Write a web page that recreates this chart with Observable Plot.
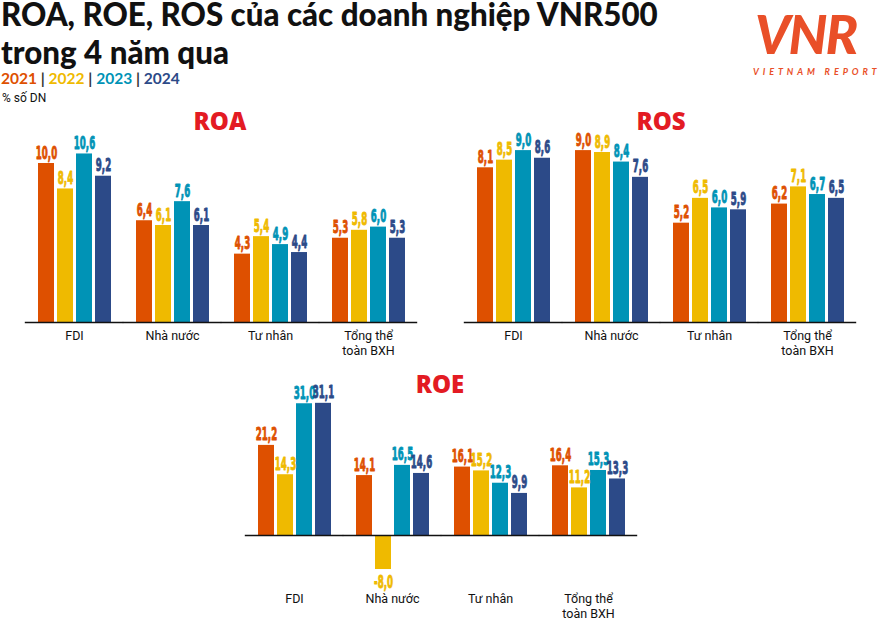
<!DOCTYPE html>
<html>
<head>
<meta charset="utf-8">
<script src="https://cdn.jsdelivr.net/npm/d3@7"></script>
<script src="https://cdn.jsdelivr.net/npm/@observablehq/plot@0.6"></script>
<style>
  body { margin: 0; background: #fff; }
  #page { position: relative; width: 881px; height: 625px; overflow: hidden; background: #fff; font-family: Lato, "Open Sans", sans-serif; }
  .abs { position: absolute; }
  .title { left: 1px; font-family: Lato, sans-serif; font-weight: 900; font-size: 31.3px; line-height: 0.9; color: #111; white-space: nowrap; }
  #legend { left: 1px; top: 71px; font-family: Lato, sans-serif; font-weight: 700; font-size: 15.5px; line-height: 1; color: #333; white-space: nowrap; }
  #legend .sep { color: #333; font-weight: 700; }
  #unit { left: 2px; top: 92px; font-family: Roboto, sans-serif; font-size: 12px; line-height: 1; color: #111; }
  .ptitle { font-family: "Open Sans", sans-serif; font-weight: 800; font-size: 24px; line-height: 1; color: #e31b23; transform: translateX(-50%); white-space: nowrap; }
  #logo { left: 752px; top: 0px; width: 129px; height: 80px; }
</style>
</head>
<body>
<div id="page">
  <div class="abs title" style="top:0px;">ROA, ROE, ROS của các doanh nghiệp VNR500</div>
  <div class="abs title" style="top:38px;">trong 4 năm qua</div>
  <div id="legend" class="abs"></div>
  <div id="unit" class="abs">% số DN</div>
  <div class="abs ptitle" style="left:220px; top:109px;">ROA</div>
  <div class="abs ptitle" style="left:661px; top:109px;">ROS</div>
  <div class="abs ptitle" style="left:440px; top:372px;">ROE</div>
  <svg id="logo" class="abs" viewBox="0 0 129 80">
    <text x="3" y="54" font-family="Lato, sans-serif" font-style="italic" font-weight="900" font-size="54" fill="#e94f28" letter-spacing="-2">VNR</text>
    <text x="1" y="75" font-family="Lato, sans-serif" font-style="italic" font-weight="700" font-size="9" fill="#e94f28" letter-spacing="3.9">VIETNAM REPORT</text>
  </svg>
  <div id="roa" class="abs" style="left:0px; top:130px;"></div>
  <div id="ros" class="abs" style="left:440px; top:130px;"></div>
  <div id="roe" class="abs" style="left:220px; top:390px;"></div>
</div>
<script>
// ---- data ----
const categories = ["FDI", "Nhà nước", "Tư nhân", "Tổng thể\ntoàn BXH"];
const years = ["2021", "2022", "2023", "2024"];
const yearColors = ["#de5000", "#efba00", "#0093b6", "#2c4a88"];

const roa2021 = [10.0, 6.4, 4.3, 5.3];
const roa2022 = [8.4, 6.1, 5.4, 5.8];
const roa2023 = [10.6, 7.6, 4.9, 6.0];
const roa2024 = [9.2, 6.1, 4.4, 5.3];

const ros2021 = [8.1, 9.0, 5.2, 6.2];
const ros2022 = [8.5, 8.9, 6.5, 7.1];
const ros2023 = [9.0, 8.4, 6.0, 6.7];
const ros2024 = [8.6, 7.6, 5.9, 6.5];

const roe2021 = [21.2, 14.1, 16.1, 16.4];
const roe2022 = [14.3, -8.0, 15.2, 11.2];
const roe2023 = [31.0, 16.5, 12.3, 15.3];
const roe2024 = [31.1, 14.6, 9.9, 13.3];

// ---- legend ----
const legend = document.getElementById("legend");
legend.innerHTML = years.map((y, i) => `<span style="color:${yearColors[i]}">${y}</span>`).join(' <span class="sep">|</span> ');

const fmt = d => d.value.toFixed(1).replace(".", ",");
const SX = 0.535; // horizontal condensing of the value labels

function panel(el, series, opt) {
  const rows = categories.flatMap((c, i) => years.map((y, j) => ({cat: c, year: y, value: series[j][i]})));
  const base = opt.baseline; // baseline y inside the svg
  const textOpts = {fx: "cat", x: "year", y: "value", text: fmt, fill: "year", stroke: "year", strokeWidth: 0.9,
    fontFamily: "'Liberation Sans Narrow', 'DejaVu Sans Condensed', sans-serif", fontWeight: 700, fontSize: 18};
  const chart = Plot.plot({
    width: opt.width,
    height: opt.height,
    marginLeft: opt.mL,
    marginRight: opt.mR,
    marginTop: 0,
    marginBottom: opt.height - base,
    style: {background: "transparent", overflow: "visible"},
    fx: {domain: categories, paddingInner: 0.245, paddingOuter: 0.1225, axis: null, label: null},
    x: {domain: years, paddingInner: 0.18, paddingOuter: 0, axis: null},
    y: {domain: [0, 10], range: [base, base - 10 * opt.ppu], axis: null},
    color: {domain: years, range: yearColors},
    marks: [
      Plot.barY(rows, {fx: "cat", x: "year", y: "value", fill: "year"}),
      Plot.ruleY([0], {stroke: "#111", strokeWidth: 1.3, insetLeft: -12.2, insetRight: -12.2}),
      Plot.text(rows.filter(d => d.value >= 0), {...textOpts, lineAnchor: "bottom", dy: -5}),
      Plot.text(rows.filter(d => d.value < 0), {...textOpts, lineAnchor: "top", dy: 6}),
      Plot.text(categories, {fx: d => d, text: d => d, frameAnchor: "bottom", lineAnchor: "top",
        dy: opt.labelDy, fontFamily: "Roboto, sans-serif", fontSize: 12.5, lineHeight: 1.25, fill: "#111"})
    ]
  });
  // condense only the numeric value labels horizontally around their anchor
  d3.select(chart).selectAll("text").each(function() {
    if (!/^-?\d+,\d$/.test(this.textContent.trim())) return;
    const t = this.getAttribute("transform");
    if (t) {
      this.setAttribute("transform", t + ` scale(${SX},1)`);
    } else {
      const x = +this.getAttribute("x") || 0;
      this.setAttribute("transform", `translate(${x},0) scale(${SX},1) translate(${-x},0)`);
    }
  });
  document.getElementById(el).appendChild(chart);
}

panel("roa", [roa2021, roa2022, roa2023, roa2024], {width: 440, height: 240, mL: 23, mR: 22, baseline: 192, ppu: 15.9, labelDy: 6});
panel("ros", [ros2021, ros2022, ros2023, ros2024], {width: 441, height: 240, mL: 22, mR: 24, baseline: 192, ppu: 19.1, labelDy: 6});
panel("roe", [roe2021, roe2022, roe2023, roe2024], {width: 440, height: 235, mL: 23, mR: 22, baseline: 145, ppu: 4.25, labelDy: 56});
</script>
</body>
</html>
